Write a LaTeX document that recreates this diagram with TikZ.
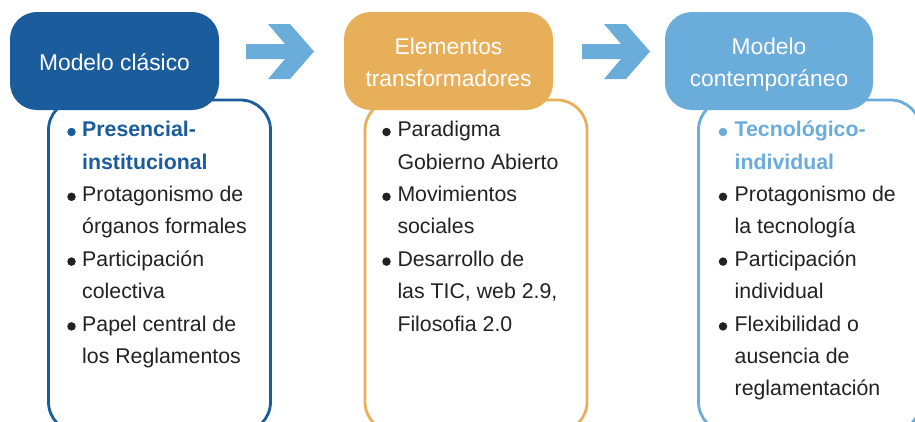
\documentclass[tikz,border=0pt]{standalone}
\usepackage{fontspec}
\setmainfont{Liberation Sans}
\definecolor{dblue}{HTML}{1A5C9C}
\definecolor{orng}{HTML}{E8AF5A}
\definecolor{lblue}{HTML}{6AACDA}
\definecolor{txt}{HTML}{222222}
\begin{document}
\begin{tikzpicture}[x=1pt,y=-1pt,
  headbox/.style={rounded corners=27pt, minimum width=209pt, minimum height=98pt, inner sep=0pt, draw=none},
  contbox/.style={rounded corners=30pt, minimum width=222pt, minimum height=332pt, inner sep=0pt, line width=2.8pt, fill=white},
  headtxt/.style={anchor=base, inner sep=0pt, text=white, font=\fontsize{22.8}{26}\selectfont},
  itemtxt/.style={anchor=base west, inner sep=0pt, text=txt, font=\fontsize{21.3}{24}\selectfont},
  hitemtxt/.style={itemtxt, font=\fontsize{21.3}{24}\selectfont\bfseries},
  bul/.style={circle, fill=txt, minimum size=8.5pt, inner sep=0pt},
  arrowshape/.style={fill=lblue, draw=none}]
\useasboundingbox (0,0) rectangle (915,421);
\clip (0,0) rectangle (915,421);

% content boxes
\node[contbox, draw=dblue] (c1) at (159.5,266) {};
\node[contbox, draw=orng]  (c2) at (476,266) {};
\node[contbox, draw=lblue] (c3) at (809.5,266) {};

% header boxes
\node[headbox, fill=dblue] (h1) at (114.5,61) {};
\node[headbox, fill=orng]  (h2) at (448.5,61) {};
\node[headbox, fill=lblue, minimum width=208pt] (h3) at (769,61) {};

% header texts
\node[headtxt] (t1) at (114.5,70) {Modelo clásico};
\node[headtxt] (t2a) at (448.5,54) {Elementos};
\node[headtxt] (t2b) at (448.5,86.5) {transformadores};
\node[headtxt] (t3a) at (769,54) {Modelo};
\node[headtxt] (t3b) at (769,86.5) {contemporáneo};

% arrows
\coordinate (a1) at (246,44);
\coordinate (a2) at (582,44);
\foreach \o in {a1,a2}{
  \fill[arrowshape, shift={(\o)}] (0,0) -- (39,0) -- (22,-20) -- (44,-20) -- (68,7.5) -- (44,35) -- (22,35) -- (39,15) -- (0,15) -- cycle;
}

% box 1 items
\node[bul, fill=dblue] (b11) at (71.5,132) {};
\node[hitemtxt, text=dblue] (l11) at (82,136.7) {Presencial-};
\node[hitemtxt, text=dblue] (l12) at (82,169.1) {institucional};
\node[bul] (b12) at (71.5,196.8) {};
\node[itemtxt] (l13) at (82,201.5) {Protagonismo de};
\node[itemtxt] (l14) at (82,233.9) {órganos formales};
\node[bul] (b13) at (71.5,261.6) {};
\node[itemtxt] (l15) at (82,266.3) {Participación};
\node[itemtxt] (l16) at (82,298.7) {colectiva};
\node[bul] (b14) at (71.5,326.4) {};
\node[itemtxt] (l17) at (82,331.1) {Papel central de};
\node[itemtxt] (l18) at (82,363.5) {los Reglamentos};

% box 2 items
\node[bul] (b21) at (386.5,132) {};
\node[itemtxt] (l21) at (397.3,136.7) {Paradigma};
\node[itemtxt] (l22) at (397.3,169.1) {Gobierno Abierto};
\node[bul] (b22) at (386.5,196.8) {};
\node[itemtxt] (l23) at (397.3,201.5) {Movimientos};
\node[itemtxt] (l24) at (397.3,233.9) {sociales};
\node[bul] (b23) at (386.5,261.6) {};
\node[itemtxt] (l25) at (397.3,266.3) {Desarrollo de};
\node[itemtxt] (l26) at (397.3,298.7) {las TIC, web 2.9,};
\node[itemtxt] (l27) at (397.3,331.1) {Filosofia 2.0};

% box 3 items
\node[bul, fill=lblue] (b31) at (723,132) {};
\node[hitemtxt, text=lblue] (l31) at (734.5,136.7) {Tecnológico-};
\node[hitemtxt, text=lblue] (l32) at (734.5,169.1) {individual};
\node[bul] (b32) at (723,196.8) {};
\node[itemtxt] (l33) at (734.5,201.5) {Protagonismo de};
\node[itemtxt] (l34) at (734.5,233.9) {la tecnología};
\node[bul] (b33) at (723,261.6) {};
\node[itemtxt] (l35) at (734.5,266.3) {Participación};
\node[itemtxt] (l36) at (734.5,298.7) {individual};
\node[bul] (b34) at (723,326.4) {};
\node[itemtxt] (l37) at (734.5,331.1) {Flexibilidad o};
\node[itemtxt] (l38) at (734.5,363.5) {ausencia de};
\node[itemtxt] (l39) at (734.5,395.9) {reglamentación};
\end{tikzpicture}
\end{document}
